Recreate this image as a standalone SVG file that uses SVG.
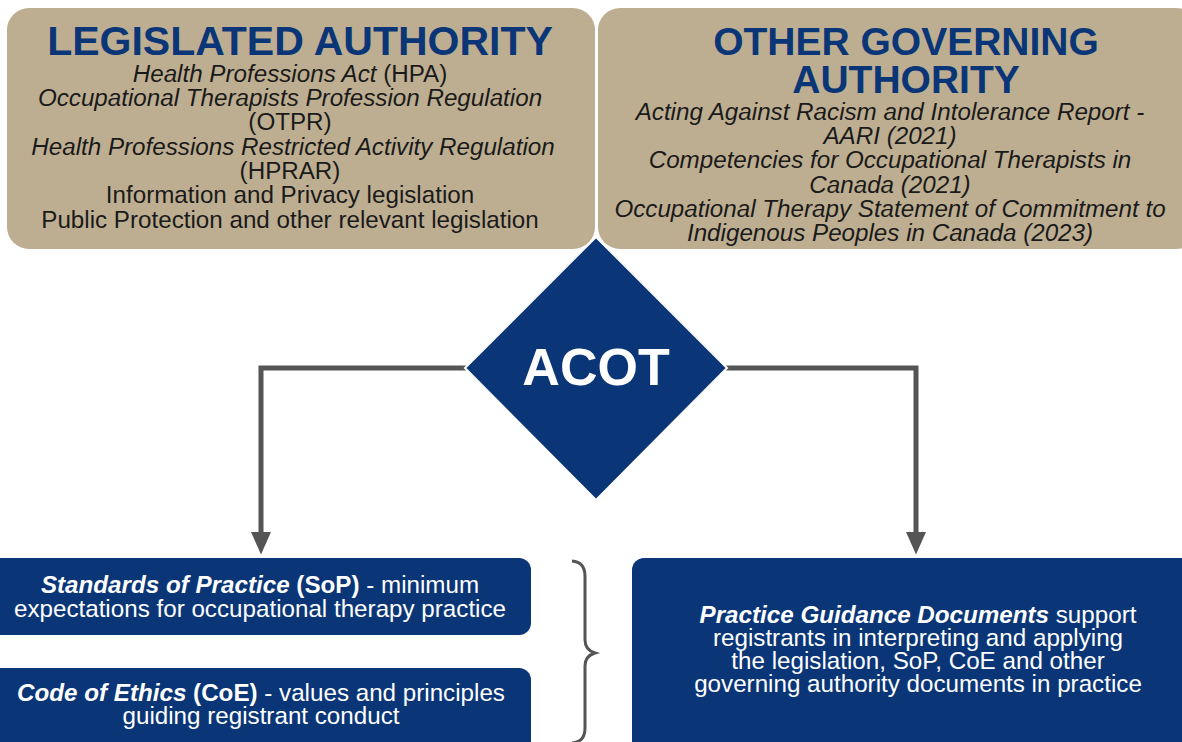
<svg xmlns="http://www.w3.org/2000/svg" width="1182" height="742" viewBox="0 0 1182 742">
<style>
.tan{fill:#BEAE91}
.navy{fill:#0A3677}
.title{font-family:"Liberation Sans",Arial,sans-serif;font-weight:bold;font-size:41px;fill:#0A3677;text-anchor:middle}
.title2{font-size:39px}
.body{font-family:"Liberation Sans",Arial,sans-serif;font-size:24.2px;fill:#1a1a1a;text-anchor:middle}
.wt{font-family:"Liberation Sans",Arial,sans-serif;font-size:24.2px;fill:#ffffff;text-anchor:middle}
.it{font-style:italic}
.b{font-weight:bold}
.conn{fill:none;stroke:#555555;stroke-width:5}
</style>
<defs>
<marker id="ah" markerWidth="5" markerHeight="4" refX="0" refY="2" orient="auto" markerUnits="strokeWidth">
<path d="M0,0 L4.5,2 L0,4 z" fill="#555555"/>
</marker>
</defs>
<rect width="1182" height="742" fill="#ffffff"/>

<g id="legislated-authority">
<rect class="tan" x="7" y="8" width="588" height="241" rx="22"/>
<text class="title" x="300" y="55">LEGISLATED AUTHORITY</text>
<text class="body" x="290" y="82"><tspan class="it">Health Professions Act</tspan> (HPA)</text>
<text class="body it" x="290" y="106">Occupational Therapists Profession Regulation</text>
<text class="body" x="290" y="130">(OTPR)</text>
<text class="body it" x="293" y="155">Health Professions Restricted Activity Regulation</text>
<text class="body" x="290" y="179">(HPRAR)</text>
<text class="body" x="290" y="203">Information and Privacy legislation</text>
<text class="body" x="290" y="228">Public Protection and other relevant legislation</text>
</g>

<g id="other-governing-authority">
<rect class="tan" x="598" y="8" width="600" height="241" rx="22"/>
<text class="title title2" x="906" y="55">OTHER GOVERNING</text>
<text class="title title2" x="906" y="93">AUTHORITY</text>
<text class="body it" x="890" y="120">Acting Against Racism and Intolerance Report -</text>
<text class="body it" x="890" y="144">AARI (2021)</text>
<text class="body it" x="890" y="168">Competencies for Occupational Therapists in</text>
<text class="body it" x="890" y="193">Canada (2021)</text>
<text class="body it" x="890" y="217">Occupational Therapy Statement of Commitment to</text>
<text class="body it" x="890" y="241">Indigenous Peoples in Canada (2023)</text>
</g>

<g id="connectors">
<polyline class="conn" points="470,368 261,368 261,532" marker-end="url(#ah)"/>
<polyline class="conn" points="722,368 916,368 916,532" marker-end="url(#ah)"/>
<path d="M572,561 Q585,562 585,576 L585,640 Q585,650 595,653 Q585,656 585,666 L585,728 Q585,742 572,743" fill="none" stroke="#555555" stroke-width="3"/>
</g>

<g id="acot">
<polygon class="navy" points="596,237 727,368 596,500 465,368" stroke="#ffffff" stroke-width="2"/>
<text x="596" y="385" font-family="'Liberation Sans',Arial,sans-serif" font-weight="bold" font-size="52" fill="#ffffff" text-anchor="middle">ACOT</text>
</g>

<g id="standards-of-practice">
<rect class="navy" x="-12" y="558" width="543" height="77" rx="12"/>
<text class="wt" x="260" y="593"><tspan class="b it">Standards of Practice</tspan> <tspan class="b">(SoP)</tspan> - minimum</text>
<text class="wt" x="260" y="617">expectations for occupational therapy practice</text>
</g>

<g id="code-of-ethics">
<rect class="navy" x="-12" y="668" width="543" height="90" rx="12"/>
<text class="wt" x="261" y="701"><tspan class="b it">Code of Ethics</tspan> <tspan class="b">(CoE)</tspan> - values and principles</text>
<text class="wt" x="261" y="724">guiding registrant conduct</text>
</g>

<g id="practice-guidance">
<rect class="navy" x="632" y="558" width="570" height="200" rx="12"/>
<text class="wt" x="918" y="623"><tspan class="b it">Practice Guidance Documents</tspan> support</text>
<text class="wt" x="918" y="646">registrants in interpreting and applying</text>
<text class="wt" x="918" y="669">the legislation, SoP, CoE and other</text>
<text class="wt" x="918" y="692">governing authority documents in practice</text>
</g>
</svg>
